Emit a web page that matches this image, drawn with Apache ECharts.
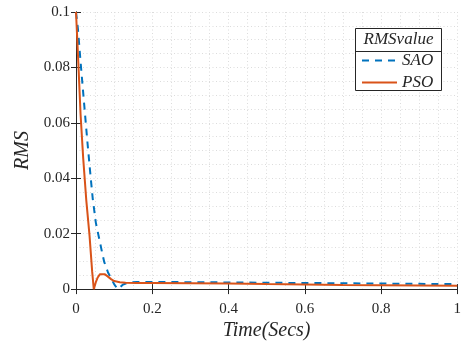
<!DOCTYPE html>
<html>
<head>
<meta charset="utf-8">
<script src="https://cdn.jsdelivr.net/npm/echarts@6/dist/echarts.min.js"></script>
<style>
html,body{margin:0;padding:0;background:#fff;}
#chart{width:464px;height:346px;}
</style>
</head>
<body>
<div id="chart"></div>
<script>
// Data
const tSAO = [0, 0.005, 0.012, 0.02, 0.03, 0.038, 0.044, 0.052, 0.061, 0.068, 0.074, 0.084, 0.092, 0.1, 0.109, 0.116, 0.122, 0.132, 0.143, 0.16, 0.2, 0.3, 0.4, 0.5, 0.6, 0.7, 0.8, 0.9, 1];
const vSAO = [0.1, 0.094, 0.082, 0.069, 0.053, 0.041, 0.0325, 0.024, 0.0181, 0.0135, 0.0098, 0.006, 0.0039, 0.0018, 0.0, 0.0007, 0.0015, 0.0021, 0.0024, 0.0026, 0.0026, 0.0025, 0.0024, 0.0023, 0.0022, 0.0021, 0.002, 0.0019, 0.0018];
const tPSO = [0, 0.006, 0.012, 0.019, 0.027, 0.0355, 0.0425, 0.0466, 0.052, 0.057, 0.063, 0.068, 0.075, 0.083, 0.092, 0.1, 0.115, 0.13, 0.16, 0.2, 0.3, 0.4, 0.5, 0.6, 0.7, 0.8, 0.9, 1];
const vPSO = [0.1, 0.082, 0.063, 0.047, 0.032, 0.0193, 0.0062, 0.0, 0.0025, 0.0042, 0.0054, 0.0058, 0.0054, 0.0046, 0.0036, 0.0029, 0.0025, 0.0023, 0.0022, 0.0022, 0.0021, 0.002, 0.0018, 0.0017, 0.0015, 0.0014, 0.0013, 0.0012];
const seriesNames = ['SAO', 'PSO'];
const legendTitle = 'RMSvalue';
const xTitle = 'Time(Secs)';
const yTitle = 'RMS';

const axisColor = '#262626';
const gridStyle = { color: '#dcdcdc', width: 1, type: [1, 2.5] };
const serif = 'Liberation Serif';

const chart = echarts.init(document.getElementById('chart'));
const pair = (ts, vs) => ts.map((t, i) => [t, vs[i]]);

chart.setOption({
  animation: false,
  backgroundColor: '#fff',
  grid: { left: 76, right: 2, top: 12, bottom: 52, containLabel: false },
  xAxis: [{
    type: 'value', min: 0, max: 1, interval: 0.2,
    name: xTitle, nameLocation: 'middle', nameGap: 30,
    nameTextStyle: { fontFamily: serif, fontStyle: 'italic', fontSize: 20, color: axisColor },
    axisLine: { lineStyle: { color: axisColor, width: 1 } },
    axisTick: { inside: true, length: 5, lineStyle: { color: axisColor } },
    axisLabel: { fontFamily: serif, fontSize: 15, color: axisColor, margin: 12 },
    splitLine: { show: true, lineStyle: gridStyle },
    minorTick: { show: false, splitNumber: 4 },
    minorSplitLine: { show: true, lineStyle: gridStyle }
  }, {
    type: 'value', min: 0, max: 1, interval: 0.2, position: 'top',
    axisLine: { show: true, lineStyle: { color: axisColor, width: 1 } },
    axisTick: { show: true, inside: true, length: 5, lineStyle: { color: axisColor } },
    axisLabel: { show: false }, splitLine: { show: false }
  }],
  yAxis: [{
    type: 'value', min: 0, max: 0.1, interval: 0.02,
    name: yTitle, nameLocation: 'middle', nameGap: 42, nameRotate: 90,
    nameTextStyle: { fontFamily: serif, fontStyle: 'italic', fontSize: 20, color: axisColor },
    axisLine: { show: true, lineStyle: { color: axisColor, width: 1 } },
    axisTick: { show: true, inside: true, length: 5, lineStyle: { color: axisColor } },
    axisLabel: { fontFamily: serif, fontSize: 15, color: axisColor, margin: 6 },
    splitLine: { show: true, lineStyle: gridStyle },
    minorTick: { show: false, splitNumber: 4 },
    minorSplitLine: { show: true, lineStyle: gridStyle }
  }, {
    type: 'value', min: 0, max: 0.1, interval: 0.02, position: 'right',
    axisLine: { show: true, lineStyle: { color: axisColor, width: 1 } },
    axisTick: { show: true, inside: true, length: 5, lineStyle: { color: axisColor } },
    axisLabel: { show: false }, splitLine: { show: false }
  }],
  legend: {
    orient: 'vertical', left: 361, top: 52,
    itemWidth: 35, itemHeight: 14, itemGap: 5,
    padding: 0,
    data: seriesNames,
    itemStyle: { opacity: 0 },
    textStyle: { fontFamily: serif, fontStyle: 'italic', fontSize: 17, color: axisColor },
    z: 20
  },
  graphic: [
    { type: 'rect', shape: { x: 355.5, y: 28.5, width: 86, height: 62 },
      style: { fill: '#fff', stroke: axisColor, lineWidth: 1 }, z: 10 },
    { type: 'line', shape: { x1: 355.5, y1: 51.5, x2: 441.5, y2: 51.5 },
      style: { stroke: axisColor, lineWidth: 1 }, z: 11 },
    { type: 'text', x: 398.5, y: 40, z: 11,
      style: { text: legendTitle, fontFamily: serif, fontStyle: 'italic', fontSize: 17, fill: axisColor, align: 'center', verticalAlign: 'middle' } }
  ],
  series: [{
    name: seriesNames[0], type: 'line', data: pair(tSAO, vSAO),
    symbol: 'none', smooth: false, clip: true,
    lineStyle: { color: '#0072BD', width: 2, type: [7, 6] },
    itemStyle: { color: '#0072BD' }
  }, {
    name: seriesNames[1], type: 'line', data: pair(tPSO, vPSO),
    symbol: 'none', smooth: false, clip: true,
    lineStyle: { color: '#D95319', width: 2 },
    itemStyle: { color: '#D95319' }
  }]
});
</script>
</body>
</html>
